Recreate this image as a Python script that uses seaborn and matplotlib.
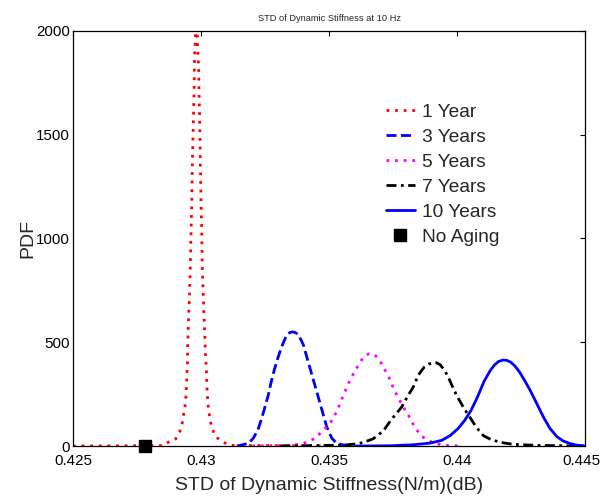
import matplotlib
matplotlib.use("Agg")
import matplotlib.pyplot as plt
import matplotlib.transforms as mtransforms
import seaborn as sns
import pandas as pd

# ---------------- data ----------------
x_1yr = [0.42500, 0.42852, 0.42872, 0.42902, 0.42918, 0.42927, 0.42932, 0.42938,
         0.42941, 0.42944, 0.42947, 0.42948, 0.42950, 0.42955, 0.42958, 0.42961,
         0.42964, 0.42966, 0.42970, 0.42973, 0.42975, 0.42978, 0.42982, 0.42986,
         0.42988, 0.42991, 0.42992, 0.42995, 0.42997, 0.43000, 0.43003, 0.43005,
         0.43009, 0.43012, 0.43015, 0.43017, 0.43021, 0.43023, 0.43027, 0.43031,
         0.43036, 0.43044, 0.43057, 0.43082, 0.43113, 0.43500]
y_1yr = [0, 2, 18, 35, 72, 112, 153, 194,
         235, 316, 398, 482, 564, 728, 853, 1017,
         1181, 1346, 1550, 1716, 1881, 1965, 2080, 1973,
         1891, 1809, 1727, 1561, 1396, 1190, 1027, 861,
         720, 615, 533, 451, 368, 286, 204, 164,
         122, 82, 45, 21, 3, 0]

x_3yr = [0.43140, 0.43159, 0.43185, 0.43204, 0.43222, 0.43237, 0.43250, 0.43263,
         0.43273, 0.43286, 0.43300, 0.43315, 0.43335, 0.43346, 0.43356, 0.43366,
         0.43380, 0.43400, 0.43413, 0.43426, 0.43439, 0.43452, 0.43465, 0.43478,
         0.43491, 0.43511, 0.43530, 0.43556, 0.43600]
y_3yr = [0, 5, 13, 37, 77, 133, 189, 246,
         302, 366, 423, 479, 535, 546, 550, 548,
         538, 487, 430, 374, 318, 262, 206, 149,
         93, 37, 13, 5, 0]

x_5yr = [0.43200, 0.43350, 0.43393, 0.43419, 0.43445, 0.43472, 0.43491, 0.43513,
         0.43527, 0.43540, 0.43552, 0.43565, 0.43579, 0.43595, 0.43611, 0.43628,
         0.43645, 0.43657, 0.43669, 0.43682, 0.43699, 0.43715, 0.43732, 0.43745,
         0.43758, 0.43775, 0.43793, 0.43810, 0.43827, 0.43845, 0.43862, 0.43882,
         0.43907, 0.43947, 0.44020]
y_5yr = [0, 3, 10, 21, 37, 69, 93, 125,
         160, 195, 232, 270, 310, 347, 382, 416,
         438, 445, 444, 435, 411, 374, 337, 299,
         262, 222, 182, 149, 109, 74, 48, 29,
         16, 3, 0]

x_7yr = [0.43310, 0.43556, 0.43608, 0.43634, 0.43673, 0.43712, 0.43742, 0.43784,
         0.43810, 0.43829, 0.43849, 0.43871, 0.43892, 0.43906, 0.43920, 0.43934,
         0.43953, 0.43970, 0.43988, 0.44005, 0.44027, 0.44051, 0.44077, 0.44103,
         0.44136, 0.44181, 0.44220, 0.44311, 0.44500]
y_7yr = [0, 4, 10, 17, 35, 72, 125, 188,
         246, 284, 342, 379, 396, 401, 401, 392,
         362, 321, 270, 230, 182, 137, 88, 50,
         29, 15, 8, 3, 0]

x_10yr = [0.43606, 0.43738, 0.43829, 0.43895, 0.43940, 0.43973, 0.44005, 0.44031,
          0.44055, 0.44080, 0.44106, 0.44129, 0.44146, 0.44162, 0.44178, 0.44194,
          0.44210, 0.44226, 0.44245, 0.44265, 0.44285, 0.44311, 0.44337, 0.44363,
          0.44390, 0.44415, 0.44441, 0.44469, 0.44500]
y_10yr = [0, 1, 6, 14, 27, 50, 85, 125,
          172, 236, 312, 362, 390, 407, 414, 413,
          404, 386, 355, 314, 270, 206, 141, 85,
          45, 24, 12, 4, 0]

x_noaging = [0.42780]
y_noaging = [0]

series_labels = ["1 Year", "3 Years", "5 Years", "7 Years", "10 Years"]
marker_label = "No Aging"

title_text = "STD of Dynamic Stiffness at 10 Hz"
xlabel_text = "STD of Dynamic Stiffness(N/m)(dB)"
ylabel_text = "PDF"
xticks = [0.425, 0.43, 0.435, 0.44, 0.445]
xtick_labels = ["0.425", "0.43", "0.435", "0.44", "0.445"]
yticks = [0, 500, 1000, 1500, 2000]
ytick_labels = ["0", "500", "1000", "1500", "2000"]

# ---------------- style ----------------
sns.set_theme(style="white")
plt.rcParams["font.family"] = ["Liberation Sans", "DejaVu Sans"]

fig = plt.figure(figsize=(6.0, 4.97), dpi=100)
ax = fig.add_axes([73 / 600, 1 - 446 / 497, 512 / 600, 415 / 497])
ax.set_facecolor("white")

lw = 2.0
styles = [
    dict(color=(1, 0, 0), linestyle=(0, (1, 2.1))),
    dict(color=(0, 0, 1), linestyle=(0, (3.6, 1.6))),
    dict(color=(1, 0, 1), linestyle=(0, (1, 2.1))),
    dict(color=(0, 0, 0), linestyle=(0, (3.6, 1.6, 1, 1.6))),
    dict(color=(0, 0, 1), linestyle="-"),
]
xs = [x_1yr, x_3yr, x_5yr, x_7yr, x_10yr]
ys = [y_1yr, y_3yr, y_5yr, y_7yr, y_10yr]

for xv, yv, lab, st in zip(xs, ys, series_labels, styles):
    df = pd.DataFrame({"x": xv, "y": yv})
    sns.lineplot(data=df, x="x", y="y", ax=ax, sort=False, estimator=None,
                 label=lab, linewidth=lw, **st)

ax.plot(x_noaging, y_noaging, linestyle="none", marker="s", markersize=8.5,
        color="black", label=marker_label, clip_on=False, zorder=5)

ax.set_xlim(0.425, 0.445)
ax.set_ylim(0, 2000)
ax.set_xticks(xticks)
ax.set_xticklabels(xtick_labels)
ax.set_yticks(yticks)
ax.set_yticklabels(ytick_labels)

ax.tick_params(axis="both", direction="in", length=3.5, width=0.8,
               top=True, right=True, labelsize=10.9, colors="black")
ax.tick_params(axis="x", pad=6)
ax.tick_params(axis="y", pad=2)
for sp in ax.spines.values():
    sp.set_visible(True)
    sp.set_color("black")
    sp.set_linewidth(0.9)

# keep the last x tick label inside the figure
last = ax.get_xticklabels()[-1]
last.set_transform(last.get_transform() +
                   mtransforms.ScaledTranslation(-4 / 100, 0, fig.dpi_scale_trans))

ax.set_title(title_text, fontsize=6.7, pad=7)
ax.set_xlabel(xlabel_text, fontsize=14, labelpad=6)
ax.set_ylabel(ylabel_text, fontsize=14, labelpad=0)

leg = ax.legend(loc="upper left", bbox_to_anchor=(0.611, 0.826), frameon=False,
                fontsize=13.8, handlelength=1.5, handletextpad=0.4,
                labelspacing=0.40, borderpad=0, borderaxespad=0)

fig.savefig("out.png", dpi=100, facecolor="white")
